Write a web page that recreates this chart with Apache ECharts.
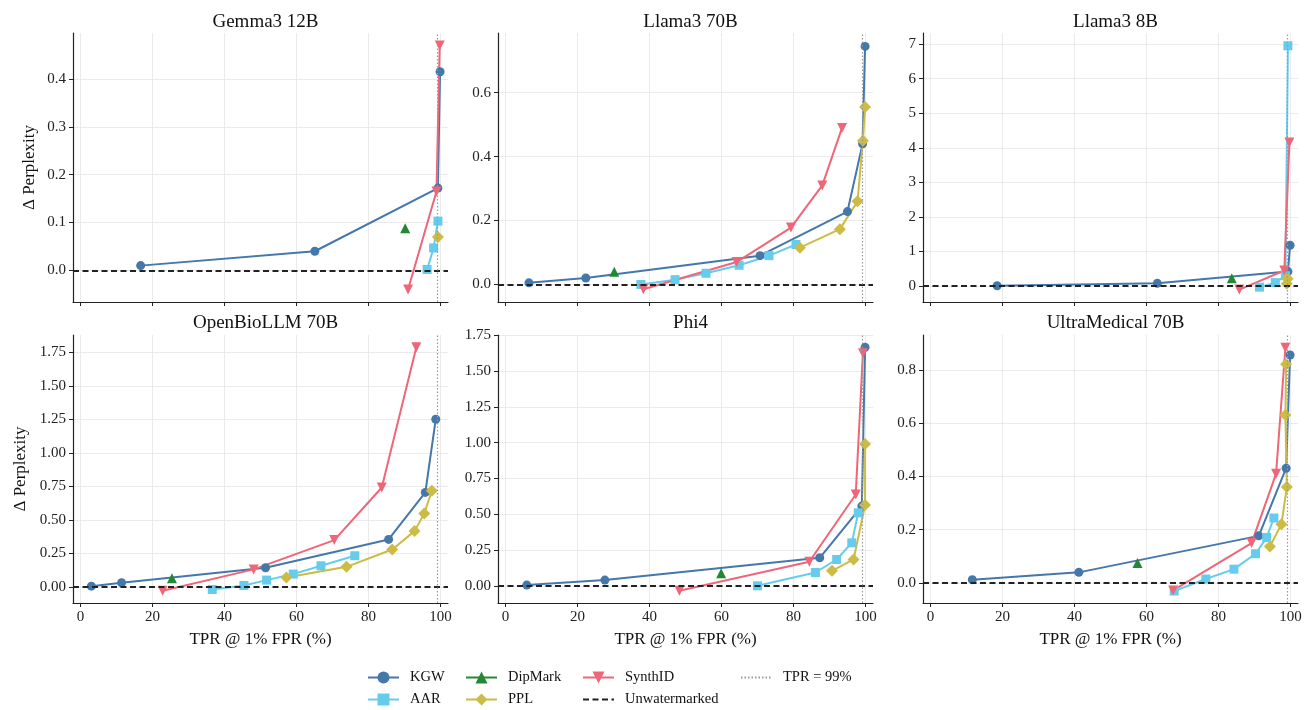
<!DOCTYPE html>
<html>
<head>
<meta charset="utf-8">
<script src="https://cdn.jsdelivr.net/npm/echarts@6/dist/echarts.min.js"></script>
<style>
  html, body { margin: 0; padding: 0; background: #fff; }
  #chart { width: 1305px; height: 710px; }
</style>
</head>
<body>
<div id="chart"></div>
<script>
// panels, left to right, top to bottom
const models = ['Gemma3 12B', 'Llama3 70B', 'Llama3 8B', 'OpenBioLLM 70B', 'Phi4', 'UltraMedical 70B']

// TPR @ 1% FPR (%) and delta perplexity, one sub-list per model
const kgwTpr = [
  [16.7, 65.1, 99.3, 99.9],
  [6.5, 22.3, 70.7, 95.0, 99.2, 99.9],
  [18.5, 63.0, 99.3, 99.9],
  [3.0, 11.4, 51.4, 85.6, 95.8, 98.7],
  [5.9, 27.6, 87.3, 99.0, 99.9],
  [11.6, 41.2, 91.2, 98.8, 99.9]
]
const kgwDppl = [
  [0.01, 0.04, 0.172, 0.415],
  [0.005, 0.02, 0.09, 0.228, 0.44, 0.745],
  [0.01, 0.08, 0.42, 1.18],
  [0.005, 0.03, 0.142, 0.354, 0.705, 1.252],
  [0.005, 0.04, 0.196, 0.557, 1.666],
  [0.0125, 0.04, 0.177, 0.431, 0.856]
]
const aarTpr = [
  [96.3, 98.1, 99.3],
  [37.6, 47.1, 55.7, 64.9, 73.2, 80.7],
  [91.4, 95.8, 98.6, 99.3],
  [36.6, 45.4, 51.7, 59.1, 66.8, 76.2],
  [70.0, 86.1, 92.0, 96.2, 98.0],
  [67.7, 76.5, 84.3, 90.3, 93.4, 95.4]
]
const aarDppl = [
  [0.002, 0.047, 0.103],
  [0.0, 0.015, 0.035, 0.06, 0.09, 0.125],
  [-0.03, 0.1, 0.3, 6.95],
  [-0.02, 0.01, 0.05, 0.095, 0.157, 0.232],
  [0.0, 0.093, 0.184, 0.3, 0.51],
  [-0.03, 0.015, 0.052, 0.11, 0.171, 0.244]
]
const dipTpr = [[90.2], [30.2], [83.7], [25.4], [59.9], [57.5]]
const dipDppl = [[0.088], [0.04], [0.23], [0.063], [0.087], [0.075]]
const pplTpr = [
  [99.3],
  [81.8, 92.9, 97.8, 99.3, 99.9],
  [99.0, 99.2],
  [57.2, 73.9, 86.6, 92.8, 95.5, 97.6],
  [90.7, 96.7, 99.9, 99.9],
  [94.3, 97.5, 99.0, 98.6, 98.8]
]
const pplDppl = [
  [0.07],
  [0.115, 0.173, 0.26, 0.45, 0.555],
  [0.07, 0.21],
  [0.07, 0.149, 0.279, 0.416, 0.548, 0.717],
  [0.105, 0.184, 0.564, 0.99],
  [0.137, 0.221, 0.36, 0.631, 0.821]
]
const synthTpr = [
  [91.0, 98.9, 99.8],
  [38.3, 64.2, 79.3, 88.0, 93.5],
  [85.8, 98.3, 99.7],
  [22.8, 48.1, 70.5, 83.7, 93.3],
  [48.3, 84.4, 97.3, 99.3],
  [67.4, 89.2, 96.0, 98.6]
]
const synthDppl = [
  [-0.04, 0.165, 0.47],
  [-0.015, 0.07, 0.178, 0.31, 0.49],
  [-0.1, 0.45, 4.15],
  [-0.03, 0.13, 0.349, 0.742, 1.79],
  [-0.035, 0.168, 0.638, 1.624],
  [-0.028, 0.15, 0.41, 0.883]
]

const unwatermarked = 0
const tprTarget = 99

// axis extents and tick labels
const xTicks = [0, 20, 40, 60, 80, 100]
const xMin = -2.1, xMax = 102.1
const yMin = [-0.066, -0.055, -0.46, -0.121, -0.12, -0.075]
const yMax = [0.496, 0.787, 7.32, 1.881, 1.752, 0.931]
const yTicks = [
  [0, 0.1, 0.2, 0.3, 0.4],
  [0, 0.2, 0.4, 0.6],
  [0, 1, 2, 3, 4, 5, 6, 7],
  [0, 0.25, 0.5, 0.75, 1, 1.25, 1.5, 1.75],
  [0, 0.25, 0.5, 0.75, 1, 1.25, 1.5, 1.75],
  [0, 0.2, 0.4, 0.6, 0.8]
]
const yDecimals = [1, 1, 0, 2, 2, 1]

const FONT = "'Liberation Serif', 'DejaVu Serif', serif"
const methods = [
  { name: 'KGW', color: '#4477AA', symbol: 'circle', size: 9, x: kgwTpr, y: kgwDppl },
  { name: 'AAR', color: '#66CCEE', symbol: 'rect', size: 9, x: aarTpr, y: aarDppl },
  { name: 'DipMark', color: '#228833', symbol: 'triangle', size: 10, x: dipTpr, y: dipDppl },
  { name: 'PPL', color: '#CCBB44', symbol: 'diamond', size: 12, x: pplTpr, y: pplDppl },
  { name: 'SynthID', color: '#EE6677', symbol: 'path://M0,0 L10,0 L5,10 Z', size: 10, x: synthTpr, y: synthDppl }
]

const colLeft = [73, 498, 923]
const rowTop = [33, 335]
const W = 375, H = 269

const grid = [], xAxis = [], yAxis = [], title = [], series = []

models.forEach((m, i) => {
  const col = i % 3, row = Math.floor(i / 3)
  grid.push({ left: colLeft[col], top: rowTop[row], width: W, height: row ? 268 : H })
  title.push({
    text: m, left: colLeft[col] + W / 2, top: row ? 309 : 8, textAlign: 'center',
    textStyle: { fontFamily: FONT, fontSize: 19, fontWeight: 'normal', color: '#111' }
  })
  xAxis.push({
    type: 'value', gridIndex: i, min: xMin, max: xMax,
    name: row ? 'TPR @ 1% FPR (%)' : '', nameLocation: 'middle', nameGap: 28,
    nameTextStyle: { fontFamily: FONT, fontSize: 17, color: '#111' },
    axisLine: { onZero: false, lineStyle: { color: '#222', width: 1.2 } },
    axisTick: { show: true, length: 4, customValues: xTicks, lineStyle: { color: '#222' } },
    axisLabel: { show: row === 1, customValues: xTicks, margin: 7, fontFamily: FONT, fontSize: 15, color: '#222' },
    splitLine: { show: true, lineStyle: { color: '#e6e6e6', width: 0.8 } }
  })
  yAxis.push({
    type: 'value', gridIndex: i, min: yMin[i], max: yMax[i],
    name: col === 0 ? 'Δ Perplexity' : '', nameLocation: 'middle', nameGap: i === 0 ? 35 : 44,
    nameTextStyle: { fontFamily: FONT, fontSize: 17, color: '#111' },
    axisLine: { show: true, onZero: false, lineStyle: { color: '#222', width: 1.2 } },
    axisTick: { show: true, length: 4, customValues: yTicks[i], lineStyle: { color: '#222' } },
    axisLabel: {
      customValues: yTicks[i], margin: 7, fontFamily: FONT, fontSize: 15, color: '#222',
      formatter: v => Number(v).toFixed(yDecimals[i])
    },
    splitLine: { show: true, lineStyle: { color: '#e6e6e6', width: 0.8 } }
  })

  methods.forEach(md => {
    series.push({
      name: md.name, type: 'line', xAxisIndex: i, yAxisIndex: i,
      data: md.x[i].map((x, k) => [x, md.y[i][k]]),
      symbol: md.symbol, symbolSize: md.size, showSymbol: true,
      lineStyle: { color: md.color, width: 2 },
      itemStyle: { color: md.color },
      emphasis: { disabled: true }
    })
  })

  // reference lines; transparent itemStyle keeps the legend icon a bare line
  series.push({
    name: 'Unwatermarked', type: 'line', xAxisIndex: i, yAxisIndex: i, data: [],
    symbol: 'none', lineStyle: { color: '#222', width: 1.8, type: [6, 3.5] },
    itemStyle: { color: 'rgba(0,0,0,0)' },
    markLine: {
      silent: true, symbol: 'none', label: { show: false },
      lineStyle: { color: '#222', width: 1.8, type: [6, 3.5] },
      data: [{ yAxis: unwatermarked }]
    }
  })
  series.push({
    name: 'TPR = 99%', type: 'line', xAxisIndex: i, yAxisIndex: i, data: [],
    symbol: 'none', lineStyle: { color: '#999', width: 1.2, type: [1.5, 2] },
    itemStyle: { color: 'rgba(0,0,0,0)' },
    markLine: {
      silent: true, symbol: 'none', label: { show: false },
      lineStyle: { color: '#999', width: 1.2, type: [1.5, 2] },
      data: [{ xAxis: tprTarget }]
    }
  })
})

// legend laid out column-wise like matplotlib's ncol=4
const legendCols = [367, 465, 582, 740]
const legendRows = [670, 692]
const legendItems = [
  ['KGW', 0, 0], ['AAR', 0, 1], ['DipMark', 1, 0], ['PPL', 1, 1],
  ['SynthID', 2, 0], ['Unwatermarked', 2, 1], ['TPR = 99%', 3, 0]
]
const legend = legendItems.map(([name, c, r]) => ({
  data: [name], left: legendCols[c], top: legendRows[r], padding: 0,
  itemWidth: 31, itemHeight: 15, selectedMode: false,
  textStyle: { fontFamily: FONT, fontSize: 14.5, color: '#111', padding: [0, 0, 0, 6] }
}))

const chart = echarts.init(document.getElementById('chart'), null, { renderer: 'canvas' })
chart.setOption({
  backgroundColor: '#fff',
  animation: false,
  title, grid, xAxis, yAxis, legend, series
})
</script>
</body>
</html>
